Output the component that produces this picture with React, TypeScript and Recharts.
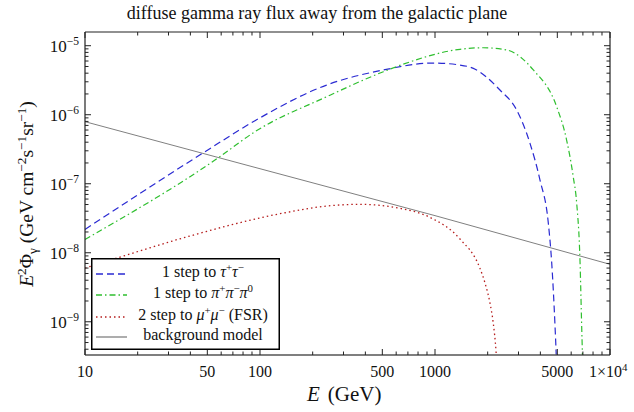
import React from 'react';
import { LineChart, Line, XAxis, YAxis, Legend } from 'recharts';

// energies in GeV, flux in GeV cm^-2 s^-1 sr^-1
const energyTau = [10, 48.5, 93.6, 240, 507, 977, 1389, 1656, 2350, 2930, 3490, 3981, 4443, 4645, 4853, 4920, 4945];
const fluxTau = [2.18e-8, 2.91e-7, 8.19e-7, 2.69e-6, 4.45e-6, 5.61e-6, 5.25e-6, 4.7e-6, 2.28e-6, 1.17e-6, 3.85e-7, 1.13e-7, 2.67e-8, 7.1e-9, 8.5e-10, 3.7e-10, 2.5e-10];

const energyPi = [10, 57.8, 93.6, 240, 507, 659, 1389, 1888, 2570, 3646, 4955, 5650, 6166, 6450, 6745, 6890, 6950, 6975];
const fluxPi = [1.56e-8, 2.38e-7, 5.68e-7, 1.82e-6, 4.2e-6, 5.4e-6, 8.87e-6, 9.35e-6, 8.67e-6, 4.45e-6, 1.31e-6, 4.3e-7, 1.26e-7, 5.25e-8, 7.1e-9, 8.5e-10, 3.7e-10, 2.5e-10];

const energyMu = [10, 15.5, 37.3, 139, 240, 373, 631, 935, 1389, 1807, 1931, 2063, 2153, 2233, 2255];
const fluxMu = [6.0e-9, 8.5e-9, 1.67e-8, 3.8e-8, 4.75e-8, 5.03e-8, 4.4e-8, 3.26e-8, 1.58e-8, 5.94e-9, 3.64e-9, 1.85e-9, 9.5e-10, 3.7e-10, 2.5e-10];

const energyBg = [10, 100, 1000, 10000];
const fluxBg = [7.93e-7, 1.65e-7, 3.45e-8, 6.8e-9];

const xMajorTicks = [10, 50, 100, 500, 1000, 5000, 10000];
const xTickLabels = ['10', '50', '100', '500', '1000', '5000', '1×10^4'];
const yMajorTicks = [1e-9, 1e-8, 1e-7, 1e-6, 1e-5];
const yTickExponents = ['−9', '−8', '−7', '−6', '−5'];

const X_DOMAIN = [10, 10000];
const Y_DOMAIN = [3.3e-10, 1.58e-5];

const FONT = '"Liberation Serif", "Times New Roman", serif';

const xMinorTicks: number[] = [];
[10, 100, 1000].forEach((d) => {
  for (let m = 2; m <= 9; m++) if (m !== 5) xMinorTicks.push(m * d);
});
const xTicks = [...xMajorTicks, ...xMinorTicks].sort((a, b) => a - b);

const yMinorTicks: number[] = [];
[1e-10, 1e-9, 1e-8, 1e-7, 1e-6].forEach((d) => {
  for (let m = 2; m <= 9; m++) {
    const v = m * d;
    if (v >= Y_DOMAIN[0] && v <= Y_DOMAIN[1]) yMinorTicks.push(v);
  }
});
const yTicks = [...yMajorTicks, ...yMinorTicks].sort((a, b) => a - b);

const zip = (es: number[], fs: number[]) => es.map((E, i) => ({ E, flux: fs[i] }));

const tauData = zip(energyTau, fluxTau);
const piData = zip(energyPi, fluxPi);
const muData = zip(energyMu, fluxMu);
const bgData = zip(energyBg, fluxBg);

const BLUE = '#2a2ad2';
const GREEN = '#2fbf2f';
const RED = '#b51c1c';
const GRAY = '#808080';
const AXIS = '#222';
const MAJOR = 6;
const MINOR = 3.5;

type Seg = [string, 'n' | 'i' | 'sup' | 'sub'];

// renders text pieces with super/subscripts as tspans
function richText(segs: Seg[], size: number) {
  let shift = 0;
  return segs.map(([t, kind], i) => {
    let target = 0;
    if (kind === 'sup') target = -size * 0.38;
    if (kind === 'sub') target = size * 0.22;
    const dy = target - shift;
    shift = target;
    const small = kind === 'sup' || kind === 'sub';
    return (
      <tspan
        key={i}
        dy={dy || undefined}
        fontSize={small ? size * 0.68 : size}
        fontStyle={kind === 'i' ? 'italic' : undefined}
      >
        {t}
      </tspan>
    );
  });
}

function BottomTick({ x, y, payload }: any) {
  const idx = xMajorTicks.indexOf(payload.value);
  const len = idx >= 0 ? MAJOR : MINOR;
  let label = null;
  if (idx >= 0) {
    const txt = xTickLabels[idx];
    if (txt.includes('^')) {
      const [base, exp] = txt.split('^');
      label = (
        <text x={x - 21} y={y + 22} fontFamily={FONT} fontSize={16} fill="#111">
          {richText([[base, 'n'], [exp, 'sup']], 16)}
        </text>
      );
    } else {
      label = (
        <text x={x} y={y + 22} textAnchor="middle" fontFamily={FONT} fontSize={16} fill="#111">
          {txt}
        </text>
      );
    }
  }
  return (
    <g>
      <line x1={x} y1={y} x2={x} y2={y - len} stroke={AXIS} strokeWidth={1} />
      {label}
    </g>
  );
}

function TopTick({ x, y, payload }: any) {
  const len = xMajorTicks.includes(payload.value) ? MAJOR : MINOR;
  return <line x1={x} y1={y} x2={x} y2={y + len} stroke={AXIS} strokeWidth={1} />;
}

function LeftTick({ x, y, payload }: any) {
  const idx = yMajorTicks.indexOf(payload.value);
  const len = idx >= 0 ? MAJOR : MINOR;
  return (
    <g>
      <line x1={x} y1={y} x2={x + len} y2={y} stroke={AXIS} strokeWidth={1} />
      {idx >= 0 && (
        <text x={x - 6} y={y + 6} textAnchor="end" fontFamily={FONT} fontSize={17} fill="#111">
          {richText([['10', 'n'], [yTickExponents[idx], 'sup']], 17)}
        </text>
      )}
    </g>
  );
}

function RightTick({ x, y, payload }: any) {
  const len = yMajorTicks.includes(payload.value) ? MAJOR : MINOR;
  return <line x1={x} y1={y} x2={x - len} y2={y} stroke={AXIS} strokeWidth={1} />;
}

const legendItems: { color: string; dash: string; label: Seg[] }[] = [
  { color: BLUE, dash: '7 4', label: [['1 step to ', 'n'], ['τ', 'i'], ['+', 'sup'], ['τ', 'i'], ['−', 'sup']] },
  {
    color: GREEN,
    dash: '6 3 1.5 3',
    label: [['1 step to ', 'n'], ['π', 'i'], ['+', 'sup'], ['π', 'i'], ['−', 'sup'], ['π', 'i'], ['0', 'sup']],
  },
  {
    color: RED,
    dash: '1.5 3',
    label: [['2 step to ', 'n'], ['μ', 'i'], ['+', 'sup'], ['μ', 'i'], ['−', 'sup'], [' (FSR)', 'n']],
  },
  { color: GRAY, dash: '', label: [['background model', 'n']] },
];
const legendRows = [19, 40, 62, 82];

function LegendBox() {
  return (
    <svg width={189} height={92} style={{ display: 'block' }}>
      <rect x={0.75} y={0.75} width={187.5} height={90.5} fill="#fff" stroke="#000" strokeWidth={1.5} />
      {legendItems.map((it, i) => (
        <g key={i}>
          <line
            x1={5}
            x2={36}
            y1={legendRows[i] - 3}
            y2={legendRows[i] - 3}
            stroke={it.color}
            strokeWidth={1.3}
            strokeDasharray={it.dash || undefined}
          />
          <text x={112} y={legendRows[i]} textAnchor="middle" fontFamily={FONT} fontSize={16} fill="#111">
            {richText(it.label, 16)}
          </text>
        </g>
      ))}
    </svg>
  );
}

function XTitle() {
  return (
    <text x={307} y={401} fontFamily={FONT} fontSize={21} fill="#111">
      <tspan fontStyle="italic">E</tspan>
      <tspan dx={8}>(GeV)</tspan>
    </text>
  );
}

function YTitle() {
  const segs: Seg[] = [
    ['E', 'i'],
    ['2', 'sup'],
    ['Φ', 'n'],
    ['γ', 'sub'],
    [' (GeV cm', 'n'],
    ['−2', 'sup'],
    ['s', 'n'],
    ['−1', 'sup'],
    ['sr', 'n'],
    ['−1', 'sup'],
    [')', 'n'],
  ];
  return (
    <text x={33} y={194} transform="rotate(-90 33 194)" textAnchor="middle" fontFamily={FONT} fontSize={19.5} fill="#111">
      {richText(segs, 19.5)}
    </text>
  );
}

// shared scale settings for the four frame axes
const xScale = {
  type: 'number' as const,
  dataKey: 'E',
  scale: 'log' as const,
  domain: X_DOMAIN,
  allowDataOverflow: true,
  interval: 0,
  ticks: xTicks,
  tickLine: false,
  tickSize: 0,
  tickMargin: 0,
};
const yScale = {
  type: 'number' as const,
  scale: 'log' as const,
  domain: Y_DOMAIN,
  allowDataOverflow: true,
  interval: 0,
  ticks: yTicks,
  tickLine: false,
  tickSize: 0,
  tickMargin: 0,
};

export default function App() {
  return (
    <div style={{ position: 'absolute', left: 0, top: 0, width: 634, height: 412, background: '#fff' }}>
      <div
        style={{
          position: 'absolute',
          top: 3,
          left: 0,
          width: 634,
          textAlign: 'center',
          fontFamily: FONT,
          fontSize: 18,
          lineHeight: '20px',
          color: '#111',
        }}
      >
        diffuse gamma ray flux away from the galactic plane
      </div>
      <LineChart width={634} height={412} margin={{ top: 32, right: 24, bottom: 0, left: 0 }}>
        <XAxis
          {...xScale}
          tick={(p: any) => <BottomTick {...p} />}
          axisLine={{ stroke: '#555', strokeWidth: 1.6 }}
          height={57}
          label={{ content: () => <XTitle /> }}
        />
        <YAxis
          {...yScale}
          tick={(p: any) => <LeftTick {...p} />}
          axisLine={{ stroke: AXIS, strokeWidth: 1.2 }}
          width={85}
          label={{ content: () => <YTitle /> }}
        />
        <XAxis
          {...xScale}
          xAxisId="top"
          orientation="top"
          mirror
          height={1}
          tick={(p: any) => <TopTick {...p} />}
          axisLine={{ stroke: AXIS, strokeWidth: 1.2 }}
        />
        <YAxis
          {...yScale}
          yAxisId="right"
          orientation="right"
          mirror
          width={1}
          tick={(p: any) => <RightTick {...p} />}
          axisLine={{ stroke: AXIS, strokeWidth: 1.2 }}
        />
        <Line
          data={bgData}
          dataKey="flux"
          name="background model"
          type="linear"
          stroke={GRAY}
          strokeWidth={1}
          dot={false}
          isAnimationActive={false}
        />
        <Line
          data={muData}
          dataKey="flux"
          name="2 step to mu"
          type="monotone"
          stroke={RED}
          strokeWidth={1.3}
          strokeDasharray="1.5 3"
          dot={false}
          isAnimationActive={false}
        />
        <Line
          data={tauData}
          dataKey="flux"
          name="1 step to tau"
          type="monotone"
          stroke={BLUE}
          strokeWidth={1.2}
          strokeDasharray="7 4"
          dot={false}
          isAnimationActive={false}
        />
        <Line
          data={piData}
          dataKey="flux"
          name="1 step to pi"
          type="monotone"
          stroke={GREEN}
          strokeWidth={1.2}
          strokeDasharray="6 3 1.5 3"
          dot={false}
          isAnimationActive={false}
        />
        <Legend
          layout="vertical"
          align="center"
          verticalAlign="middle"
          content={() => <LegendBox />}
          wrapperStyle={{ left: 91, top: 258, width: 189, height: 92 }}
        />
      </LineChart>
    </div>
  );
}
